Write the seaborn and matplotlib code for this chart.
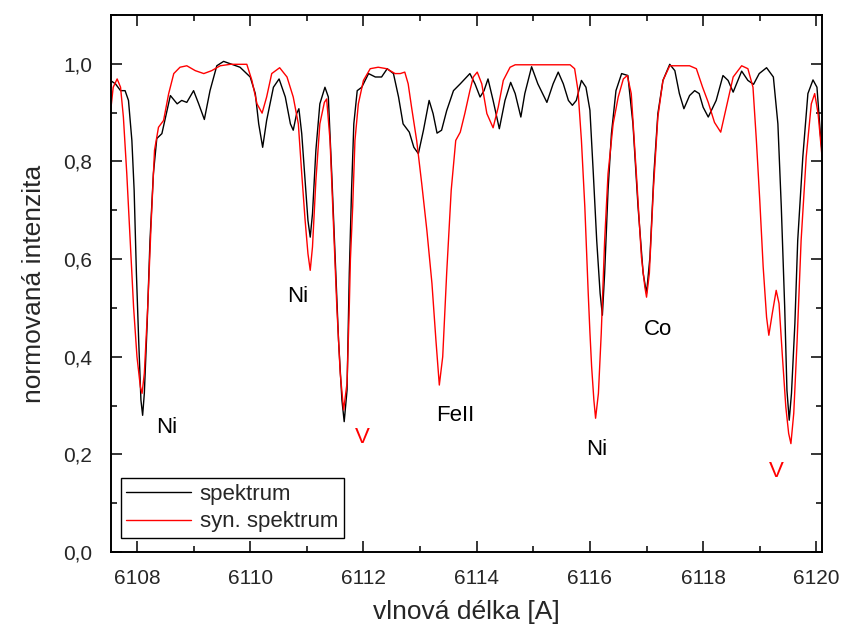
import numpy as np
import pandas as pd
import matplotlib
matplotlib.use('Agg')
import matplotlib.pyplot as plt
import seaborn as sns
from matplotlib.ticker import MultipleLocator, FuncFormatter

spek_x = [6107.53, 6107.62, 6107.71, 6107.79, 6107.85, 6107.91, 6107.95, 6107.99, 6108.03,
          6108.07, 6108.10, 6108.13, 6108.18, 6108.23, 6108.29, 6108.35, 6108.44, 6108.50,
          6108.59, 6108.71, 6108.79, 6108.88, 6109.00, 6109.09, 6109.19, 6109.29, 6109.41,
          6109.53, 6109.65, 6109.82, 6110.00, 6110.09, 6110.15, 6110.22, 6110.29, 6110.41,
          6110.51, 6110.62, 6110.71, 6110.76, 6110.82, 6110.86, 6110.91, 6110.97, 6111.02,
          6111.06, 6111.10, 6111.16, 6111.23, 6111.32, 6111.38, 6111.44, 6111.50, 6111.56,
          6111.62, 6111.66, 6111.71, 6111.75, 6111.79, 6111.83, 6111.89, 6111.97, 6112.09,
          6112.21, 6112.32, 6112.42, 6112.53, 6112.62, 6112.70, 6112.81, 6112.89, 6112.97,
          6113.06, 6113.16, 6113.23, 6113.30, 6113.38, 6113.47, 6113.59, 6113.71, 6113.79,
          6113.88, 6113.97, 6114.06, 6114.13, 6114.20, 6114.29, 6114.40, 6114.50, 6114.60,
          6114.68, 6114.78, 6114.85, 6114.97, 6115.08, 6115.24, 6115.35, 6115.44, 6115.53,
          6115.62, 6115.69, 6115.76, 6115.85, 6115.93, 6116.00, 6116.06, 6116.12, 6116.18,
          6116.22, 6116.26, 6116.32, 6116.38, 6116.46, 6116.56, 6116.67, 6116.76, 6116.85,
          6116.94, 6117.00, 6117.06, 6117.13, 6117.20, 6117.29, 6117.41, 6117.50, 6117.58,
          6117.66, 6117.76, 6117.85, 6117.93, 6118.00, 6118.09, 6118.23, 6118.35, 6118.44,
          6118.53, 6118.68, 6118.79, 6118.89, 6118.99, 6119.12, 6119.24, 6119.32, 6119.38,
          6119.44, 6119.48, 6119.52, 6119.56, 6119.62, 6119.67, 6119.76, 6119.85, 6119.94,
          6120.01, 6120.07, 6120.10]
spek_y = [0.966, 0.959, 0.945, 0.945, 0.925, 0.843, 0.741, 0.571, 0.434,
          0.311, 0.280, 0.325, 0.468, 0.638, 0.775, 0.847, 0.857, 0.888,
          0.935, 0.918, 0.925, 0.921, 0.945, 0.918, 0.886, 0.945, 0.996,
          1.005, 1.000, 0.993, 0.973, 0.939, 0.877, 0.829, 0.884, 0.952,
          0.969, 0.932, 0.877, 0.864, 0.898, 0.908, 0.857, 0.761, 0.679,
          0.645, 0.693, 0.823, 0.918, 0.952, 0.932, 0.775, 0.604, 0.434,
          0.311, 0.267, 0.331, 0.571, 0.741, 0.877, 0.945, 0.952, 0.980,
          0.973, 0.973, 0.990, 0.980, 0.932, 0.877, 0.860, 0.829, 0.816,
          0.864, 0.925, 0.898, 0.858, 0.864, 0.904, 0.945, 0.959, 0.969,
          0.980, 0.959, 0.932, 0.945, 0.969, 0.925, 0.867, 0.925, 0.962,
          0.939, 0.891, 0.939, 0.994, 0.959, 0.921, 0.959, 0.983, 0.959,
          0.925, 0.915, 0.925, 0.966, 0.952, 0.905, 0.775, 0.638, 0.530,
          0.485, 0.571, 0.741, 0.857, 0.945, 0.980, 0.976, 0.877, 0.707,
          0.571, 0.530, 0.604, 0.775, 0.898, 0.966, 0.999, 0.986, 0.939,
          0.908, 0.935, 0.945, 0.939, 0.911, 0.891, 0.925, 0.976, 0.966,
          0.942, 0.985, 0.966, 0.958, 0.980, 0.992, 0.973, 0.877, 0.707,
          0.502, 0.331, 0.270, 0.325, 0.468, 0.638, 0.809, 0.939, 0.967,
          0.952, 0.857, 0.820]

# synthetic spectrum
syn_x = [6107.53, 6107.58, 6107.65, 6107.71, 6107.76, 6107.82, 6107.88, 6107.94, 6108.00,
         6108.06, 6108.09, 6108.13, 6108.19, 6108.25, 6108.31, 6108.38, 6108.47, 6108.56,
         6108.65, 6108.76, 6108.88, 6109.03, 6109.18, 6109.32, 6109.47, 6109.65, 6109.94,
         6110.03, 6110.12, 6110.21, 6110.29, 6110.38, 6110.52, 6110.65, 6110.76, 6110.85,
         6110.91, 6110.97, 6111.02, 6111.06, 6111.10, 6111.16, 6111.23, 6111.31, 6111.35,
         6111.41, 6111.47, 6111.53, 6111.59, 6111.65, 6111.71, 6111.75, 6111.77, 6111.81,
         6111.85, 6111.91, 6112.00, 6112.12, 6112.26, 6112.41, 6112.56, 6112.65, 6112.73,
         6112.79, 6112.85, 6112.94, 6113.03, 6113.12, 6113.21, 6113.28, 6113.34, 6113.40,
         6113.47, 6113.55, 6113.63, 6113.71, 6113.79, 6113.88, 6113.94, 6114.01, 6114.09,
         6114.18, 6114.29, 6114.38, 6114.47, 6114.59, 6114.68, 6115.65, 6115.73, 6115.79,
         6115.85, 6115.91, 6115.97, 6116.00, 6116.03, 6116.07, 6116.10, 6116.15, 6116.20,
         6116.26, 6116.32, 6116.41, 6116.50, 6116.59, 6116.66, 6116.73, 6116.82, 6116.91,
         6116.97, 6117.00, 6117.05, 6117.12, 6117.20, 6117.29, 6117.41, 6117.76, 6117.88,
         6117.99, 6118.09, 6118.20, 6118.31, 6118.41, 6118.53, 6118.68, 6118.79, 6118.88,
         6118.94, 6119.00, 6119.06, 6119.12, 6119.16, 6119.22, 6119.29, 6119.34, 6119.40,
         6119.46, 6119.51, 6119.55, 6119.60, 6119.66, 6119.73, 6119.82, 6119.91, 6119.97,
         6120.03, 6120.10]
syn_y = [0.898, 0.952, 0.969, 0.952, 0.891, 0.775, 0.638, 0.502, 0.400,
         0.338, 0.325, 0.366, 0.502, 0.673, 0.823, 0.870, 0.884, 0.939,
         0.980, 0.993, 0.996, 0.986, 0.980, 0.986, 0.996, 0.999, 0.999,
         0.966, 0.918, 0.899, 0.932, 0.980, 0.992, 0.973, 0.932, 0.877,
         0.775, 0.679, 0.611, 0.577, 0.625, 0.761, 0.877, 0.921, 0.928,
         0.843, 0.673, 0.502, 0.366, 0.291, 0.346, 0.502, 0.600, 0.707,
         0.843, 0.918, 0.966, 0.990, 0.993, 0.990, 0.980, 0.980, 0.983,
         0.959, 0.911, 0.843, 0.754, 0.659, 0.550, 0.434, 0.342, 0.400,
         0.571, 0.741, 0.843, 0.860, 0.898, 0.945, 0.973, 0.983, 0.959,
         0.898, 0.869, 0.911, 0.966, 0.993, 0.998, 0.998, 0.990, 0.945,
         0.843, 0.707, 0.530, 0.450, 0.380, 0.311, 0.274, 0.325, 0.448,
         0.638, 0.775, 0.877, 0.932, 0.969, 0.976, 0.939, 0.775, 0.604,
         0.543, 0.522, 0.571, 0.741, 0.891, 0.966, 0.996, 0.996, 0.990,
         0.952, 0.921, 0.880, 0.860, 0.911, 0.973, 0.996, 0.990, 0.952,
         0.843, 0.720, 0.584, 0.481, 0.444, 0.488, 0.536, 0.509, 0.400,
         0.297, 0.243, 0.222, 0.284, 0.434, 0.638, 0.809, 0.918, 0.939,
         0.898, 0.809]

# line labels
lab_text = ['Ni', 'Ni', 'V', 'FeII', 'Ni', 'Co', 'V']
lab_x = [6108.52, 6110.83, 6111.98, 6113.62, 6116.12, 6117.20, 6119.30]
lab_y = [0.256, 0.524, 0.235, 0.280, 0.209, 0.456, 0.164]
lab_col = ['black', 'black', 'red', 'black', 'black', 'black', 'red']

df = pd.concat([
    pd.DataFrame({'wl': spek_x, 'I': spek_y, 'serie': 'spektrum'}),
    pd.DataFrame({'wl': syn_x, 'I': syn_y, 'serie': 'syn. spektrum'}),
], ignore_index=True)

sns.set_style('ticks')
plt.rcParams['font.family'] = ['Liberation Sans', 'DejaVu Sans']

fig = plt.figure(figsize=(8.44, 6.30), dpi=100)
ax = fig.add_axes([0.1321, 0.1238, 0.8419, 0.8524])

sns.lineplot(data=df, x='wl', y='I', hue='serie', estimator=None, sort=False,
             palette={'spektrum': 'black', 'syn. spektrum': '#ff0000'},
             linewidth=1.0, ax=ax)

for t, x, y, c in zip(lab_text, lab_x, lab_y, lab_col):
    ax.text(x, y, t, color=c, fontsize=16, ha='center', va='center')

ax.set_xlim(6107.55, 6120.1)
ax.set_ylim(0, 1.1)
ax.xaxis.set_major_locator(MultipleLocator(2))
ax.xaxis.set_minor_locator(MultipleLocator(1))
ax.yaxis.set_major_locator(MultipleLocator(0.2))
ax.yaxis.set_minor_locator(MultipleLocator(0.1))
ax.yaxis.set_major_formatter(FuncFormatter(lambda v, p: f'{v:.1f}'.replace('.', ',')))
ax.xaxis.set_major_formatter(FuncFormatter(lambda v, p: f'{v:.0f}'))
ax.tick_params(which='both', direction='in', top=True, right=True, width=1.3, labelsize=15)
ax.tick_params(axis='x', which='major', pad=12)
ax.tick_params(axis='y', which='major', pad=14)
ax.tick_params(which='major', length=8)
ax.tick_params(which='minor', length=4)
for s in ax.spines.values():
    s.set_linewidth(1.4)
    s.set_color('black')

ax.set_xlabel('vlnová délka [A]', fontsize=19, labelpad=9)
ax.set_ylabel('normovaná intenzita', fontsize=19, labelpad=12)

leg = ax.legend(loc='lower left', bbox_to_anchor=(0.013, 0.026), fontsize=16,
                frameon=True, fancybox=False, edgecolor='black', framealpha=1,
                handlelength=2.9, borderpad=0.25, labelspacing=0.3, handletextpad=0.4,
                borderaxespad=0)
leg.get_frame().set_linewidth(1.0)

fig.savefig('out.png', dpi=100)
